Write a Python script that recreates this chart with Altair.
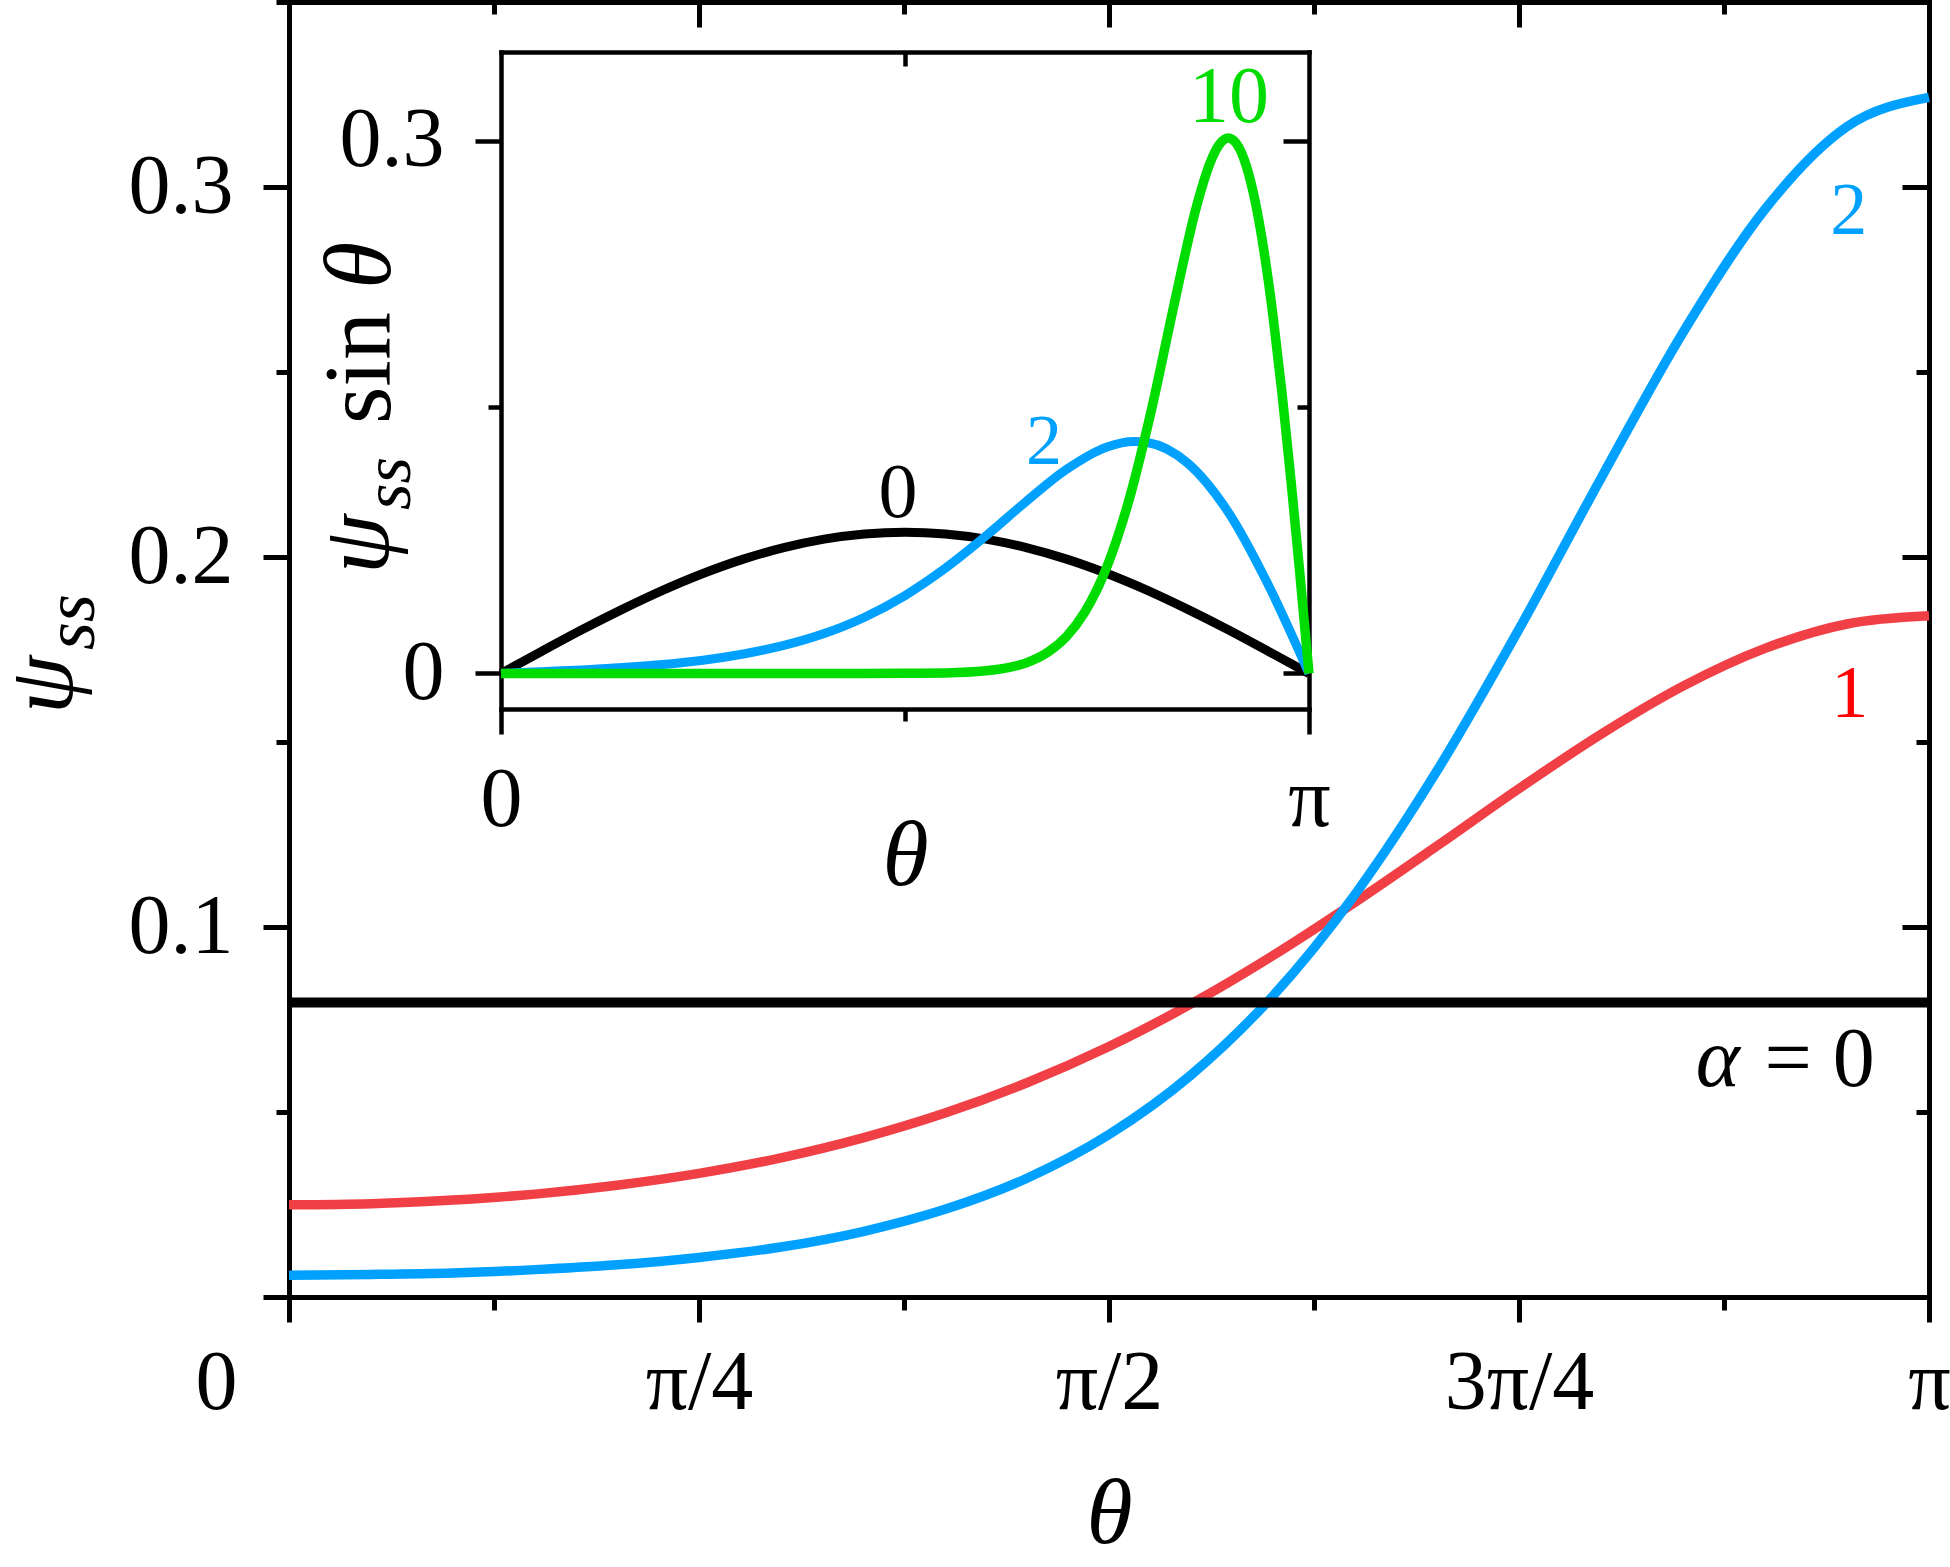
import math
import altair as alt
import pandas as pd

PI = math.pi
FONT = "Liberation Serif"

# ---------------- values ----------------
# main panel: psi_ss versus theta (degrees), alpha = 0, 1, 2
main_theta_deg = [0, 9, 18, 27, 36, 45, 54, 63, 72, 81, 90, 99, 108, 117, 126,
                  135, 144, 153, 162, 171, 180]
main_alpha0_theta_deg = [0, 180]
main_alpha0 = [0.0796, 0.0796]
main_alpha1 = [0.0249, 0.0252, 0.0262, 0.0278, 0.0302, 0.0334, 0.0376, 0.0430,
               0.0497, 0.0579, 0.0677, 0.0792, 0.0923, 0.1067, 0.1219, 0.1374,
               0.1521, 0.1651, 0.1753, 0.1819, 0.1841]
main_alpha2 = [0.0059, 0.0061, 0.0065, 0.0074, 0.0087, 0.0107, 0.0135, 0.0177,
               0.0237, 0.0321, 0.0439, 0.0600, 0.0814, 0.1088, 0.1422, 0.1805,
               0.2213, 0.2607, 0.2940, 0.3163, 0.3242]

# inset: psi_ss * sin(theta), alpha = 0, 2, 10
inset_alpha0_theta_deg = [0, 9, 18, 27, 36, 45, 54, 63, 72, 81, 90, 99, 108, 117,
                          126, 135, 144, 153, 162, 171, 180]
inset_alpha0 = [0.0, 0.0124, 0.0246, 0.0361, 0.0468, 0.0563, 0.0644, 0.0709,
                0.0757, 0.0786, 0.0796, 0.0786, 0.0757, 0.0709, 0.0644, 0.0563,
                0.0468, 0.0361, 0.0246, 0.0124, 0.0]
inset_alpha2_theta_deg = [0, 9, 18, 27, 36, 45, 54, 63, 72, 81, 90, 99, 108, 117,
                          126, 135, 141, 144, 153, 162, 171, 180]
inset_alpha2 = [0.0, 0.0010, 0.0020, 0.0034, 0.0051, 0.0075, 0.0110, 0.0158,
                0.0225, 0.0317, 0.0439, 0.0593, 0.0774, 0.0969, 0.1150, 0.1276,
                0.1307, 0.1301, 0.1184, 0.0909, 0.0495, 0.0]
inset_alpha10_theta_deg = [0, 30, 60, 80, 90, 99, 108, 113, 117, 122, 126, 130,
                           135, 140, 145, 150, 155, 158, 160, 162, 164, 166, 168,
                           170, 172, 174, 176, 178, 180]
inset_alpha10 = [0.0, 0.0, 0.0, 0.0, 0.0001, 0.0003, 0.0015, 0.0033, 0.0060,
                 0.0123, 0.0209, 0.0343, 0.0602, 0.0986, 0.1496, 0.2084, 0.2636,
                 0.2878, 0.2978, 0.3015, 0.2978, 0.2861, 0.2660, 0.2374, 0.2010,
                 0.1575, 0.1084, 0.0552, 0.0]

# tick values
main_x_ticks = [k * PI / 8 for k in range(9)]
main_y_ticks = [0, 0.05, 0.1, 0.15, 0.2, 0.25, 0.3, 0.35]
inset_x_ticks = [0, PI / 2, PI]
inset_y_ticks = [0, 0.15, 0.3]

# curve labels: (text, theta, value, color, size, style)
main_labels = [("2", 2.988, 0.2873, "#00A0FF", 74, "normal"),
               ("1", 2.990, 0.1568, "#FF0000", 74, "normal"),
               ("α", 2.737, 0.0570, "black", 84, "italic"),
               ("= 0", 2.932, 0.0570, "black", 84, "normal")]
inset_labels = [("10", 2.8305, 0.3105, "#00DC00", 80, "normal"),
                ("2", 2.1112, 0.1179, "#00A0FF", 72, "normal"),
                ("0", 1.5436, 0.0880, "black", 78, "normal")]

RED = "#F04046"
BLUE = "#00A0FF"
GREEN = "#00DC00"

# ---------------- layout ----------------
W, H = 1640, 1295
MAIN_XD, MAIN_YD = [0, PI], [0, 0.35]
INS_XD, INS_YD = [0, PI], [-0.02, 0.35]
INS_XR, INS_YR = [212, 1020], [707, 50]


def df_of(deg, vals):
    return pd.DataFrame({"theta": [d * PI / 180 for d in deg], "psi": vals})


def enc(xd, yd, xaxis=None, yaxis=None, xr=None, yr=None):
    xs = dict(domain=xd, nice=False, zero=False)
    ys = dict(domain=yd, nice=False, zero=False)
    if xr is not None:
        xs["range"] = xr
    if yr is not None:
        ys["range"] = yr
    return dict(x=alt.X("theta:Q", scale=alt.Scale(**xs), axis=xaxis),
                y=alt.Y("psi:Q", scale=alt.Scale(**ys), axis=yaxis))


def cond(test, a, b):
    return {"condition": {"test": test, "value": a}, "value": b}


base_axis = dict(grid=False, domainColor="black", tickColor="black",
                 labelColor="black", labelFont=FONT, labelFontSize=84,
                 labelFlush=False, labelOverlap=False, domainCap="square")

MAJ_X = "round(datum.value*8/PI) % 2 == 0"
MAJ_Y = "abs(datum.value*10 - round(datum.value*10)) < 0.001"
X_LAB = ("round(datum.value*8/PI) == 0 ? '0' : round(datum.value*8/PI) == 2 ? 'π/4' : "
         "round(datum.value*8/PI) == 4 ? 'π/2' : round(datum.value*8/PI) == 6 ? '3π/4' : "
         "round(datum.value*8/PI) == 8 ? 'π' : ''")
Y_LAB = "datum.value > 0.01 && " + MAJ_Y + " ? format(datum.value, '.1f') : ''"

AW = 5
main_x_axis = alt.Axis(orient="bottom", values=main_x_ticks, domainWidth=AW,
                       tickWidth=AW, tickSize=cond(MAJ_X, 25, 13),
                       labelExpr=X_LAB, labelPadding=20,
                       labelOffset=cond("datum.value < 0.01", -73, 0),
                       title="θ", titleFont=FONT, titleFontSize=94,
                       titleFontStyle="italic", titleFontWeight="normal",
                       titleColor="black", titleY=245, titleBaseline="alphabetic",
                       **base_axis)
main_y_axis = alt.Axis(orient="left", values=main_y_ticks, domainWidth=AW,
                       tickWidth=AW, tickSize=cond(MAJ_Y, 26, 13),
                       labelExpr=Y_LAB, labelPadding=30, title=None, **base_axis)
main_top_axis = alt.Axis(orient="bottom", offset=-H, values=main_x_ticks,
                         domainWidth=AW, tickWidth=AW,
                         tickSize=cond(MAJ_X, 25, 12), labels=False, title=None,
                         **base_axis)
main_right_axis = alt.Axis(orient="left", offset=-W, values=main_y_ticks,
                           domainWidth=AW, tickWidth=AW,
                           tickSize=cond(MAJ_Y, 27, 13), labels=False, title=None,
                           **base_axis)

IW = 4.5
ENDS = "datum.value < 0.01 || datum.value > 3"
I_MAJ_Y = "abs(datum.value - 0.15) > 0.01"
inset_x_axis = alt.Axis(orient="bottom", offset=-(H - INS_YR[0]), values=inset_x_ticks,
                        domainWidth=IW, tickWidth=IW, tickSize=cond(ENDS, 25, 12),
                        labelExpr="datum.value < 0.01 ? '0' : datum.value > 3 ? 'π' : ''",
                        labelPadding=25, title="θ", titleFont=FONT, titleFontSize=94,
                        titleFontStyle="italic", titleFontWeight="normal",
                        titleColor="black", titleY=175, titleBaseline="alphabetic",
                        **base_axis)
inset_y_axis = alt.Axis(orient="left", offset=-INS_XR[0], values=inset_y_ticks,
                        domainWidth=IW, tickWidth=IW, tickSize=cond(I_MAJ_Y, 26, 13),
                        labelExpr="datum.value < 0.01 ? '0' : datum.value > 0.2 ? '0.3' : ''",
                        labelPadding=31, title=None, **base_axis)
inset_top_axis = alt.Axis(orient="bottom", offset=-(H - INS_YR[1]), values=[PI / 2],
                          domainWidth=IW, tickWidth=IW, tickSize=14, labels=False,
                          title=None, **base_axis)
inset_right_axis = alt.Axis(orient="left", offset=-INS_XR[1], values=inset_y_ticks,
                            domainWidth=IW, tickWidth=IW, tickSize=cond(I_MAJ_Y, 26, 12),
                            labels=False, title=None, **base_axis)

layers = []

# main curves
d1 = df_of(main_theta_deg, main_alpha1)
d2 = df_of(main_theta_deg, main_alpha2)
d0 = df_of(main_alpha0_theta_deg, main_alpha0)
layers.append(alt.Chart(d1).mark_line(color=RED, strokeWidth=9.5, interpolate="monotone")
              .encode(**enc(MAIN_XD, MAIN_YD, main_x_axis, main_y_axis)))
layers.append(alt.Chart(d2).mark_line(color=BLUE, strokeWidth=9.5, interpolate="monotone")
              .encode(**enc(MAIN_XD, MAIN_YD)))
layers.append(alt.Chart(d0).mark_line(color="black", strokeWidth=10)
              .encode(**enc(MAIN_XD, MAIN_YD)))
layers.append(alt.Chart(d1).mark_line(opacity=0)
              .encode(**enc(MAIN_XD, MAIN_YD, main_top_axis, main_right_axis)))

# inset curves
i0 = df_of(inset_alpha0_theta_deg, inset_alpha0)
i2 = df_of(inset_alpha2_theta_deg, inset_alpha2)
i10 = df_of(inset_alpha10_theta_deg, inset_alpha10)
layers.append(alt.Chart(i0).mark_line(color="black", strokeWidth=9, interpolate="monotone")
              .encode(**enc(INS_XD, INS_YD, inset_x_axis, inset_y_axis, INS_XR, INS_YR)))
layers.append(alt.Chart(i2).mark_line(color=BLUE, strokeWidth=9, interpolate="monotone")
              .encode(**enc(INS_XD, INS_YD, None, None, INS_XR, INS_YR)))
layers.append(alt.Chart(i10).mark_line(color=GREEN, strokeWidth=9.5, interpolate="monotone")
              .encode(**enc(INS_XD, INS_YD, None, None, INS_XR, INS_YR)))
layers.append(alt.Chart(i0).mark_line(opacity=0)
              .encode(**enc(INS_XD, INS_YD, inset_top_axis, inset_right_axis, INS_XR, INS_YR)))

# curve labels
for (t, th, v, c, s, st) in main_labels:
    layers.append(alt.Chart(pd.DataFrame({"theta": [th], "psi": [v]}))
                  .mark_text(text=t, font=FONT, fontSize=s, fontStyle=st, color=c,
                             align="center", baseline="alphabetic")
                  .encode(**enc(MAIN_XD, MAIN_YD)))
for (t, th, v, c, s, st) in inset_labels:
    layers.append(alt.Chart(pd.DataFrame({"theta": [th], "psi": [v]}))
                  .mark_text(text=t, font=FONT, fontSize=s, fontStyle=st, color=c,
                             align="center", baseline="alphabetic")
                  .encode(**enc(INS_XD, INS_YD, None, None, INS_XR, INS_YR)))

# rotated axis titles built from pieces (psi with subscript ss)
title_parts = [("ψ", -217, 712, 94, "italic"),
               ("ss", -195, 648, 72, "italic"),
               ("ψ", 99, 572, 96, "italic"),
               ("ss", 121, 508, 68, "italic"),
               ("sin", 101, 422, 96, "normal"),
               ("θ", 101, 287, 96, "italic")]
dummy = pd.DataFrame({"k": [0]})
for (t, px, py, s, st) in title_parts:
    layers.append(alt.Chart(dummy)
                  .mark_text(text=t, font=FONT, fontSize=s, fontStyle=st, color="black",
                             angle=270, align="left", baseline="alphabetic")
                  .encode(x=alt.value(px), y=alt.value(py)))

chart = (alt.layer(*layers)
         .resolve_scale(x="independent", y="independent")
         .properties(width=W, height=H,
                     autosize=alt.AutoSizeParams(type="none"),
                     padding={"left": 289, "top": 2, "right": 21, "bottom": 268},
                     background="white")
         .configure_view(stroke=None))

chart.save("out.html", embed_options={"renderer": "svg", "actions": False})
